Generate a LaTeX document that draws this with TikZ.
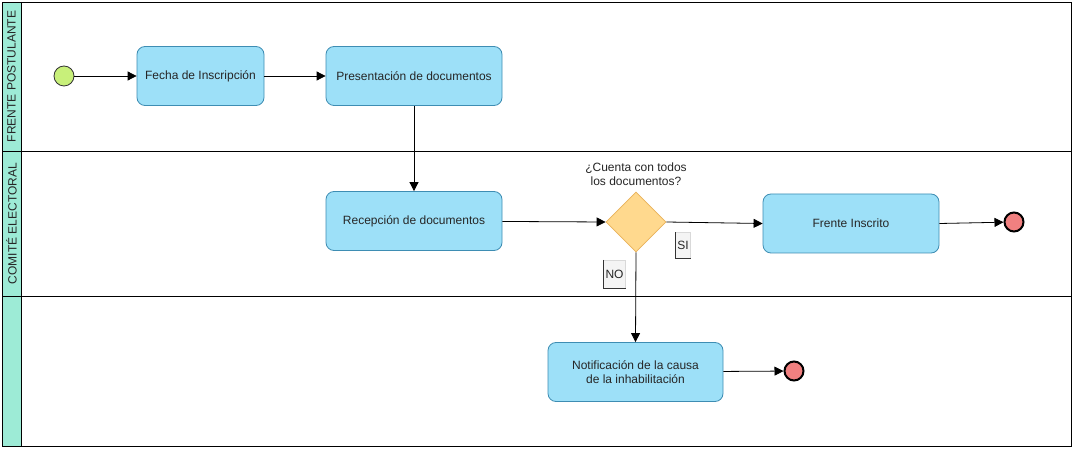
\documentclass[tikz,border=0pt]{standalone}
\usepackage{fontspec}
\setmainfont{Liberation Sans}
\usepackage{tikz}
\usetikzlibrary{arrows.meta,shapes.geometric}
\definecolor{lanecolor}{HTML}{9DEBD6}
\definecolor{taskfill}{HTML}{9DE0F8}
\definecolor{taskline}{HTML}{3E8DB3}
\definecolor{gatefill}{HTML}{FFD98E}
\definecolor{gateline}{HTML}{E8B25A}
\definecolor{startfill}{HTML}{C8F07A}
\definecolor{endfill}{HTML}{F08080}
\definecolor{labelfill}{HTML}{F4F4F4}
\begin{document}
\begin{tikzpicture}[x=1pt,y=-1pt, >={Triangle[length=9pt,width=9pt]},
      every node/.append style={font=\fontsize{12}{14.5}\selectfont,color=black!85}]
    \tikzstyle{task} = [rectangle,rounded corners=8pt,draw=taskline,fill=taskfill,line width=0.8pt,
      minimum width=176pt,minimum height=59pt,align=center,inner sep=0pt]
    \tikzstyle{gateway} = [diamond,draw=gateline,fill=gatefill,line width=0.8pt,
      minimum width=60pt,minimum height=60pt,inner sep=0pt]
    \tikzstyle{startev} = [circle,draw=black!80,fill=startfill,line width=0.8pt,minimum size=20pt,inner sep=0pt]
    \tikzstyle{endev} = [circle,draw=black,fill=endfill,line width=2pt,minimum size=19pt,inner sep=0pt]
    \tikzstyle{flow} = [->,line width=0.8pt]
    \tikzstyle{cond} = [fill=labelfill,draw=black!15,inner sep=2pt,minimum height=26pt]
    \tikzstyle{condedge} = [black!80,line width=0.8pt]
    \useasboundingbox (0,0) rectangle (1074,449);
    % pool and lanes
    \fill[white] (2,2) rectangle (1071,446);
    \fill[lanecolor] (2,2) rectangle (21,446);
    \draw[line width=0.8pt] (2,2) rectangle (1071,446);
    \draw[line width=0.8pt] (21,2) -- (21,446);
    \draw[line width=0.8pt] (2,151) -- (1071,151);
    \draw[line width=0.8pt] (2,296) -- (1071,296);
    \node[rotate=90] (lane1) at (11.5,76.5) {FRENTE POSTULANTE};
    \node[rotate=90] (lane2) at (11.5,223.5) {COMITÉ ELECTORAL};
    % events and tasks
    \node (start) [startev] at (64,76) {};
    \node (fecha) [task,minimum width=127pt] at (200.5,76) {Fecha de Inscripción};
    \node (presentacion) [task] at (414,76) {Presentación de documentos};
    \node (recepcion) [task] at (414,221) {Recepción de documentos};
    \node (gate) [gateway] at (636,222) {};
    \node (pregunta) at (636,174) [align=center] {¿Cuenta con todos\\los documentos?};
    \node (inscrito) [task] at (851,223.5) {Frente Inscrito};
    \node (fin1) [endev] at (1014,222) {};
    \node (notificacion) [task,minimum width=175pt] at (635.5,372) {Notificación de la causa\\de la inhabilitación};
    \node (fin2) [endev] at (794,371) {};
    % flows
    \draw[flow] (start) -- (fecha);
    \draw[flow] (fecha) -- (presentacion);
    \draw[flow] (presentacion) -- (recepcion);
    \draw[flow] (recepcion) -- (gate.west);
    \draw[flow] (gate.east) -- (inscrito.west);
    \draw[flow] (inscrito.east) -- (fin1);
    \draw[flow] (gate.south) -- (notificacion.north);
    \draw[flow] (notificacion) -- (fin2);
    \node (si) [cond] at (683,245.5) {SI};
    \draw[condedge] (si.north west) -- (si.south west) -- (si.south east);
    \node (no) [cond,minimum height=28pt] at (614.5,274) {NO};
    \draw[condedge] (no.north west) -- (no.south west) -- (no.south east);
\end{tikzpicture}
\end{document}
